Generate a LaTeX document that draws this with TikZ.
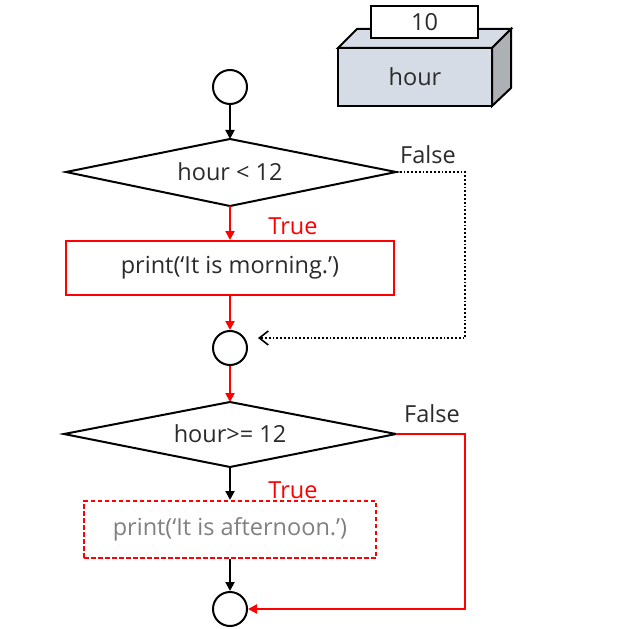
\documentclass[tikz,border=0pt]{standalone}
\usepackage{fontspec}
\setmainfont{Open Sans}
\usetikzlibrary{arrows.meta,shapes.geometric}
\definecolor{txt}{HTML}{2B2B2B}
\definecolor{front}{HTML}{D6DCE5}
\definecolor{side}{HTML}{ADB0B5}
\begin{document}
\begin{tikzpicture}[x=1pt,y=-1pt,
  every node/.style={font=\fontsize{23.5}{28}\selectfont, text=txt},
  term/.style={draw, circle, line width=2pt, minimum size=34pt, inner sep=0pt},
  cond/.style={draw, line width=2pt},
  ln/.style={line width=2pt},
  arr/.style={ln, -{Triangle[length=9pt,width=9pt]}},
  rarr/.style={ln, red, -{Triangle[length=9pt,width=9pt]}},
]
\useasboundingbox (0,0) rectangle (644,628);
% variable box
\draw[ln, fill=front] (338,48) rectangle (492,106);
\draw[ln, fill=front] (338,48) -- (357,29) -- (511,29) -- (492,48) -- cycle;
\draw[ln, fill=side] (492,48) -- (511,29) -- (511,88) -- (492,106) -- cycle;
\node[draw, line width=2pt, fill=white, minimum width=107pt, minimum height=32pt, inner sep=0pt] (val) at (424.5,22) {10};
\node (var) at (415,77) {hour};
% start
\node[term] (s) at (230,87) {};
% diamond 1
\coordinate (d1t) at (230,139);
\coordinate (d1b) at (230,206);
\coordinate (d1l) at (66,172);
\coordinate (d1r) at (396,172);
\draw[cond] (d1l) -- (d1t) -- (d1r) -- (d1b) -- cycle;
\node (c1) at (230,172) {hour < 12};
\draw[arr] (s) -- (d1t);
% box 1
\node[draw=red, line width=2pt, minimum width=328pt, minimum height=54pt, inner sep=0pt] (b1) at (230,268) {print(‘It is morning.’)};
\draw[rarr] (d1b) -- (b1.north);
\node[text=red] (t1) at (293,226) {True};
% circle 2
\node[term] (m) at (230,348) {};
\draw[rarr] (b1.south) -- (m);
% false 1
\coordinate (f1a) at (465,172);
\coordinate (f1b) at (465,338);
\coordinate (f1c) at (258,338);
\draw[dotted, line width=1.8pt, -{Straight Barb[length=9pt,width=14pt,line width=1.6pt]}] (d1r) -- (f1a) -- (f1b) -- (f1c);
\node (fl1) at (428,155) {False};
% diamond 2
\coordinate (d2t) at (230,402);
\coordinate (d2b) at (230,467);
\coordinate (d2l) at (64,434);
\coordinate (d2r) at (396,434);
\draw[cond] (d2l) -- (d2t) -- (d2r) -- (d2b) -- cycle;
\node (c2) at (230,434) {hour>= 12};
\draw[rarr] (m) -- (d2t);
% box 2
\node[draw=red, dash pattern=on 4.5pt off 2.5pt, line width=2pt, minimum width=292pt, minimum height=57pt, inner sep=0pt, text=gray] (b2) at (230,529.5) {print(‘It is afternoon.’)};
\draw[arr] (d2b) -- (b2.north);
\node[text=red] (t2) at (293,490) {True};
% end
\node[term] (e) at (230,609) {};
\draw[arr] (b2.south) -- (e);
% false 2
\coordinate (f2a) at (465,434);
\coordinate (f2b) at (465,609);
\draw[ln, red, -{Triangle[length=9pt,width=9pt]}] (d2r) -- (f2a) -- (f2b) -- (e.east);
\node (fl2) at (432,414) {False};
\end{tikzpicture}
\end{document}
